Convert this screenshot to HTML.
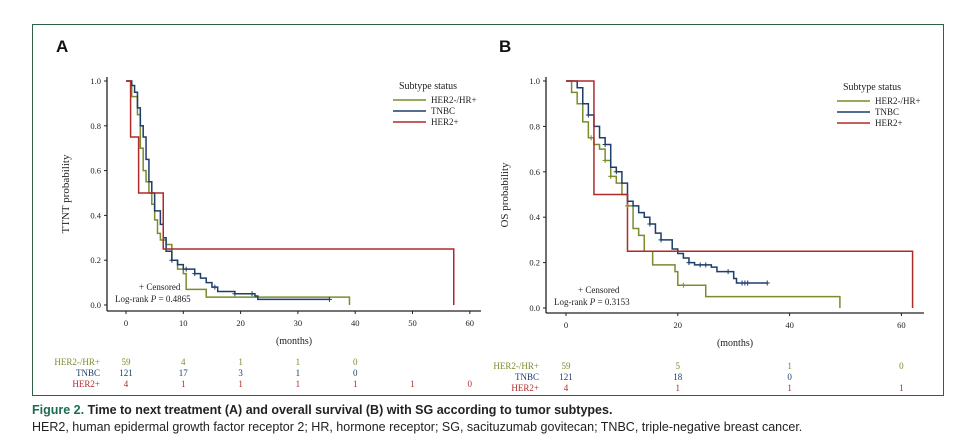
<!DOCTYPE html>
<html><head><meta charset="utf-8">
<style>
body{margin:0;width:967px;height:445px;background:#fff;overflow:hidden;font-family:"Liberation Serif",serif;}
#frame{position:absolute;left:32px;top:24px;width:912px;height:372px;border:1px solid #2f5f45;border-right:none;box-sizing:border-box;}
#frame2{position:absolute;left:943px;top:24px;width:1px;height:372px;background:#2f5f45;}
.cap{position:absolute;left:32px;font-family:"Liberation Sans",sans-serif;font-size:12.5px;color:#222;white-space:nowrap;}
</style></head><body>
<div id="frame"></div>
<div id="frame2"></div>
<svg id="svg" width="967" height="445" style="position:absolute;left:0;top:0">
<text x="56" y="52" font-family="Liberation Sans" font-weight="bold" font-size="17" fill="#111">A</text>
<text x="499" y="52" font-family="Liberation Sans" font-weight="bold" font-size="17" fill="#111">B</text>
</svg>
<div class="cap" style="top:403px;font-weight:bold"><span style="color:#1c6b55">Figure 2.</span> Time to next treatment (A) and overall survival (B) with SG according to tumor subtypes.</div>
<div class="cap" style="top:420px">HER2, human epidermal growth factor receptor 2; HR, hormone receptor; SG, sacituzumab govitecan; TNBC, triple-negative breast cancer.</div>
<script>
const seriesNames=["HER2-/HR+","TNBC","HER2+"];
const colors=["#7a8c2c","#1d3d6b","#b02a2a"];
// Panel A (TTNT)
const aT_g=[0,1,2,2.5,3,3.5,4,4.5,5,5.5,6,7,8,9,10,10.5,14,39];
const aS_g=[1,0.93,0.85,0.7,0.6,0.55,0.5,0.45,0.38,0.32,0.29,0.27,0.2,0.16,0.14,0.07,0.035,0];
const aT_b=[0,1,1.5,2,2.5,3,3.5,4,4.5,5,6,6.5,7,8,9,10,12,13,14,15,16,19,22.5,23,35.5];
const aS_b=[1,0.98,0.95,0.88,0.8,0.75,0.65,0.55,0.5,0.42,0.36,0.3,0.24,0.2,0.18,0.16,0.14,0.12,0.1,0.08,0.06,0.05,0.04,0.025,0.025];
const aT_r=[0,0.8,2.2,6.5,57.2];
const aS_r=[1,0.75,0.5,0.25,0];
const aCens_b=[8,10.5,12,15.5,19,22,35.5];
const aTicks=[0,10,20,30,40,50,60];
const aRiskT=[0,10,20,30,40,50,60];
const aRisk=[[59,4,1,1,0],[121,17,3,1,0],[4,1,1,1,1,1,0]];
// Panel B (OS)
const bT_g=[0,1,2,3,4,5,6,7,8,9,10,11,12,13,14,15.5,19.5,20,25,49];
const bS_g=[1,0.95,0.9,0.82,0.75,0.72,0.7,0.65,0.58,0.55,0.5,0.45,0.35,0.32,0.25,0.19,0.16,0.1,0.05,0];
const bT_b=[0,2,3,4,5,6,7,8,9,10,11,12,13,14,15,16,17,19,20,21,22,23,26,27,30,30.5,36];
const bS_b=[1,0.97,0.9,0.85,0.8,0.75,0.72,0.62,0.6,0.55,0.47,0.45,0.42,0.4,0.37,0.33,0.3,0.26,0.24,0.22,0.2,0.19,0.18,0.16,0.13,0.11,0.11];
const bT_r=[0,5,11,62];
const bS_r=[1,0.5,0.25,0];
const bCens_b=[4,7,9,15,17,22,24,25,29,31.5,32,32.5,36];
const bCens_g=[4.5,7,8,11,21];
const bTicks=[0,20,40,60];
const bRiskT=[0,20,40,60];
const bRisk=[[59,5,1,0],[121,18,0],[4,1,1,1]];

const svg=document.getElementById('svg');
const NS="http://www.w3.org/2000/svg";
function mk(tag,attrs,name,parent){const e=document.createElementNS(NS,tag);for(const k in attrs)e.setAttribute(k,attrs[k]);


(parent||svg).appendChild(e);return e;}
function txt(x,y,s,name,opt){const t=mk('text',Object.assign({x:x,y:y,'font-family':'Liberation Serif','font-size':9.5,fill:'#222'},opt||{}),name);t.textContent=s;return t;}
function stepPath(T,S,xs,ys){let d='M'+xs(T[0])+','+ys(S[0]);for(let i=1;i<T.length;i++){d+=' H'+xs(T[i])+' V'+ys(S[i]);}return d;}
function survAt(T,S,t){let v=S[0];for(let i=0;i<T.length;i++){if(T[i]<=t)v=S[i];}return v;}
function panel(p){
 const xs=t=>p.x0+t*p.kx, ys=s=>p.y0-(p.y0-p.y1)*s;
 const g=mk('g',{},p.id+'-plot');
 mk('line',{x1:p.ax,y1:p.yTop,x2:p.ax,y2:p.axY,stroke:'#222','stroke-width':1.3},p.id+'-y-axis',g);
 mk('line',{x1:p.ax,y1:p.axY,x2:p.axR,y2:p.axY,stroke:'#222','stroke-width':1.3},p.id+'-x-axis',g);
 [0,0.2,0.4,0.6,0.8,1.0].forEach(v=>{mk('line',{x1:p.ax-3,y1:ys(v),x2:p.ax,y2:ys(v),stroke:'#222'},p.id+'-y-tick',g);
  txt(p.ax-6,ys(v)+3,v.toFixed(1),p.id+'-y-tick-label',{'text-anchor':'end','font-size':8.5});});
 p.ticks.forEach(v=>{mk('line',{x1:xs(v),y1:p.axY,x2:xs(v),y2:p.axY+3,stroke:'#222'},p.id+'-x-tick',g);
  txt(xs(v),p.axY+15,String(v),p.id+'-x-tick-label',{'text-anchor':'middle','font-size':8.5});});
 txt((p.ax+p.axR)/2,p.axY+33,'(months)',p.id+'-x-axis-title',{'text-anchor':'middle','font-size':10});
 const ty=(p.yTop+p.axY)/2;
 txt(p.ax-38,ty,p.ylab,p.id+'-y-axis-title',{'text-anchor':'middle','font-size':11,transform:'rotate(-90 '+(p.ax-38)+' '+ty+')'});
 // curves
 p.curves.forEach((c,i)=>{mk('path',{d:stepPath(c[0],c[1],xs,ys),fill:'none',stroke:colors[i],'stroke-width':1.5},p.id+'-curve-'+['hr-pos','tnbc','her2-pos'][i],g);});
 p.cens.forEach(c=>{c.t.forEach(t=>{const x=xs(t),y=ys(survAt(c.T,c.S,t));
  mk('path',{d:'M'+(x-2.5)+','+y+' H'+(x+2.5)+' M'+x+','+(y-2.5)+' V'+(y+2.5),stroke:colors[c.i],'stroke-width':1},p.id+'-censor-mark',g);});});
 txt(p.ax+32,ys(0)-15,'+ Censored',p.id+'-censored-note',{'font-size':9});
 const lr=txt(p.ax+8,ys(0)-3,'',p.id+'-logrank-note',{'font-size':9});
 lr.innerHTML='Log-rank <tspan font-style="italic">P</tspan> = '+p.pval;
 // legend
 txt(p.lx+20,p.ly,'Subtype status',p.id+'-legend-title',{'text-anchor':'middle','font-size':10});
 seriesNames.forEach((n,i)=>{const y=p.ly+11*(i+1);
  mk('line',{x1:p.lx-15,y1:y,x2:p.lx+18,y2:y,stroke:colors[i],'stroke-width':1.5},p.id+'-legend-swatch',g);
  txt(p.lx+23,y+3,n,p.id+'-legend-entry',{'font-size':9});});
 // risk table
 p.risk.forEach((row,i)=>{const y=p.ry+11*i;
  txt(p.rlx,y,seriesNames[i],p.id+'-risk-row-label',{'text-anchor':'end','font-size':9,fill:colors[i]});
  row.forEach((v,j)=>txt(xs(p.riskT[j]),y,String(v),p.id+'-risk-count',{'text-anchor':'middle','font-size':9,fill:colors[i]}));});
}
panel({id:'panel-a',x0:126,kx:5.73,y0:305,y1:81,ax:107,axR:481,axY:311,yTop:77,ticks:aTicks,ylab:'TTNT probability',pval:'0.4865',
 curves:[[aT_g,aS_g],[aT_b,aS_b],[aT_r,aS_r]],cens:[{i:1,T:aT_b,S:aS_b,t:aCens_b}],
 lx:408,ly:89,risk:aRisk,riskT:aRiskT,ry:365,rlx:100});
panel({id:'panel-b',x0:566,kx:5.59,y0:308,y1:81,ax:546,axR:924,axY:313,yTop:77,ticks:bTicks,ylab:'OS probability',pval:'0.3153',
 curves:[[bT_g,bS_g],[bT_b,bS_b],[bT_r,bS_r]],cens:[{i:1,T:bT_b,S:bS_b,t:bCens_b},{i:0,T:bT_g,S:bS_g,t:bCens_g}],
 lx:852,ly:90,risk:bRisk,riskT:bRiskT,ry:369,rlx:539});
</script>
</body></html>
